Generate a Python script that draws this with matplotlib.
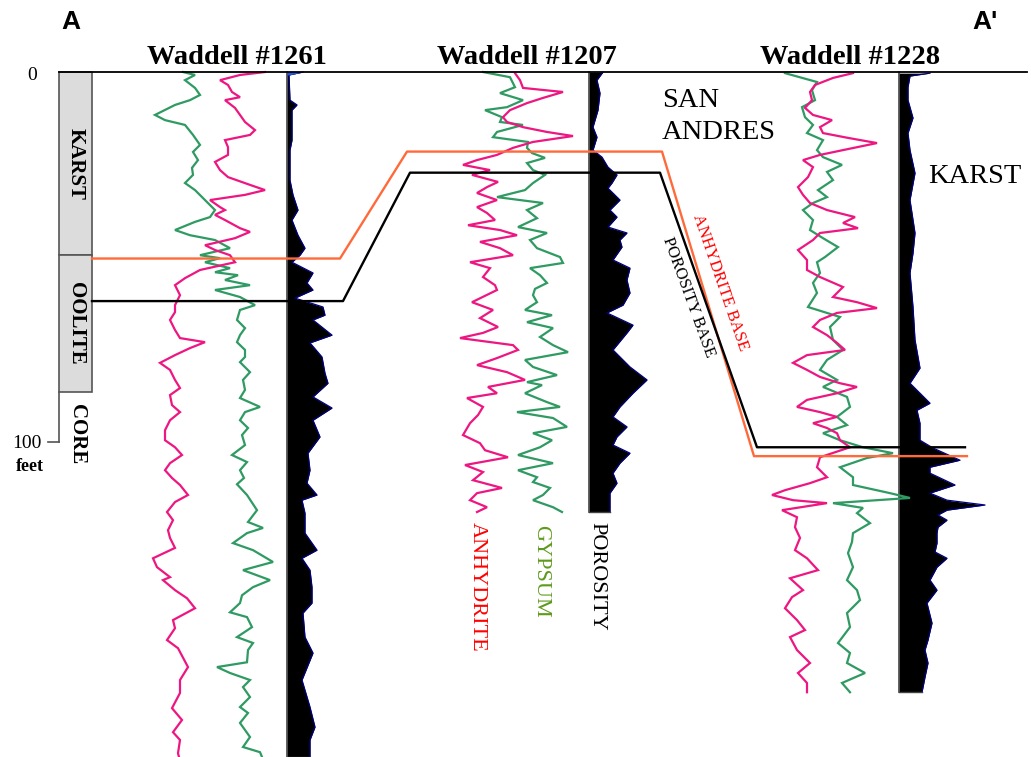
import matplotlib
matplotlib.use("Agg")
import matplotlib.pyplot as plt
from matplotlib.patches import Rectangle
import numpy as np

plt.rcParams['font.family'] = ['Liberation Serif', 'DejaVu Serif']

# depth in feet below the top datum, readings in section (display) units
well_names = ["Waddell #1261", "Waddell #1207", "Waddell #1228"]

gyp_1261 = [(0, 183), (0.8, 195), (2.2, 185), (4.3, 195), (6.2, 200), (7.6, 190), (8.9, 175), (11.6, 155),
            (13.0, 165), (14.3, 185), (17.0, 193), (19.7, 200), (21.6, 193), (23.8, 198), (25.9, 192), (27.8, 193),
            (30.0, 185), (31.9, 195), (34.6, 205), (37.3, 215), (39.2, 210), (40.5, 195), (42.7, 175), (44.1, 190),
            (45.4, 215), (47.6, 230), (49.5, 200), (50.3, 220), (51.4, 205), (53.0, 230), (54.1, 215), (54.9, 238),
            (56.2, 225), (57.6, 250), (58.9, 215), (60.8, 240), (63.0, 255), (64.3, 240), (67.0, 237), (69.2, 245),
            (71.1, 240), (73.0, 237), (75.1, 245), (77.0, 245), (78.4, 240), (81.1, 250), (83.2, 243), (85.9, 245),
            (88.1, 240), (90.5, 260), (91.9, 245), (94.1, 240), (96.2, 248), (98.1, 242), (100.8, 245), (103.5, 232),
            (105.4, 247), (107.6, 240), (109.7, 244), (111.4, 237), (114.3, 247), (118.4, 257), (121.6, 248),
            (123.2, 263), (124.6, 247), (127.3, 233), (129.2, 253), (132.4, 273), (134.6, 243), (137.3, 270),
            (139.2, 253), (141.4, 242), (143.5, 240), (146.0, 230), (147.3, 247), (150.0, 252), (152.7, 237),
            (154.3, 253), (156.2, 248), (159.5, 247), (160.8, 217), (162.4, 230), (164.3, 250), (166.2, 243),
            (168.9, 250), (171.6, 240), (173.2, 248), (175.9, 240), (179.7, 250), (182.4, 243), (183.8, 260),
            (185.1, 262)]

anh_1261 = [(0, 265), (0.8, 240), (2.2, 220), (3.5, 228), (5.4, 232), (6.8, 240), (7.6, 225), (9.7, 235),
            (11.6, 240), (13.5, 245), (15.7, 255), (17.0, 250), (18.4, 225), (20.3, 228), (22.4, 228), (24.3, 215),
            (26.5, 220), (28.4, 228), (30.5, 250), (31.9, 265), (33.2, 245), (34.6, 210), (36.5, 220), (37.3, 225),
            (38.6, 215), (40.0, 225), (42.2, 240), (43.2, 250), (44.9, 235), (46.8, 205), (48.1, 215), (49.5, 230),
            (51.4, 235), (53.5, 200), (55.7, 185), (57.6, 175), (60.3, 180), (63.0, 175), (64.9, 175), (67.0, 170),
            (69.7, 175), (71.9, 180), (73.0, 205), (74.6, 190), (76.5, 175), (78.6, 160), (80.5, 170), (83.2, 175),
            (85.4, 180), (87.3, 170), (90.0, 172), (91.9, 180), (94.1, 170), (96.8, 165), (99.5, 165), (101.4, 175),
            (103.5, 182), (105.7, 170), (107.6, 165), (109.7, 172), (111.6, 180), (114.3, 188), (116.2, 175),
            (118.9, 167), (121.1, 173), (123.8, 168), (125.9, 170), (128.6, 175), (131.4, 153), (133.8, 157),
            (136.5, 170), (137.3, 163), (140.0, 175), (142.2, 187), (144.9, 195), (148.1, 173), (150.3, 175),
            (153.5, 167), (155.7, 178), (160.8, 188), (164.3, 180), (167.8, 180), (171.9, 172), (175.1, 182),
            (178.4, 173), (180.5, 180), (184.1, 178), (185.1, 179)]

por_1261 = [(0, 303), (0.8, 289), (7.6, 290), (8.9, 297), (10.3, 292), (18.4, 292), (21.1, 290), (29.2, 290),
            (33.2, 293), (37.3, 298), (40.0, 292), (44.1, 298), (47.6, 305), (49.5, 300), (51.4, 292), (54.3, 313),
            (57.0, 307), (58.9, 313), (61.1, 295), (63.5, 323), (65.7, 325), (67.0, 313), (71.1, 332), (73.2, 310),
            (77.0, 322), (81.4, 325), (84.1, 328), (87.8, 313), (90.8, 332), (94.1, 313), (98.6, 320), (103.0, 308),
            (107.6, 310), (111.1, 307), (114.3, 317), (115.7, 302), (119.2, 305), (124.6, 305), (129.2, 317),
            (131.4, 302), (134.6, 310), (139.2, 312), (143.5, 312), (146.2, 303), (152.7, 305), (157.0, 313),
            (164.3, 302), (171.6, 310), (177.0, 315), (180.5, 310), (185.1, 310)]

anh_1207 = [(0.3, 515), (2.2, 520), (4.3, 523), (5.4, 563), (7.0, 543), (8.4, 527), (10.3, 510), (12.2, 503),
            (13.5, 507), (14.9, 523), (16.2, 547), (17.3, 573), (18.9, 533), (20.5, 513), (22.4, 497), (23.8, 477),
            (25.1, 463), (26.5, 490), (27.8, 472), (29.7, 498), (31.1, 487), (32.7, 477), (34.6, 497), (36.5, 477),
            (38.1, 487), (40.0, 495), (41.4, 468), (42.7, 500), (44.1, 517), (45.9, 480), (47.6, 500), (49.5, 513),
            (51.4, 470), (53.0, 490), (55.4, 483), (57.6, 495), (58.9, 497), (62.2, 472), (64.3, 493), (66.5, 480),
            (68.9, 498), (70.5, 483), (71.9, 460), (73.8, 513), (75.1, 518), (77.3, 497), (79.2, 477), (81.1, 507),
            (83.2, 525), (85.1, 488), (86.8, 497), (88.1, 467), (90.5, 483), (92.7, 478), (94.9, 470), (98.1, 463),
            (100.3, 480), (102.2, 485), (104.1, 508), (106.2, 465), (108.1, 483), (110.3, 473), (112.4, 502),
            (113.8, 477), (115.7, 470), (117.6, 487), (118.9, 477)]

gyp_1207 = [(0, 483), (1.4, 510), (4.1, 515), (5.7, 500), (7.6, 523), (9.5, 507), (10.3, 485), (12.2, 502),
            (13.5, 500), (14.3, 523), (16.2, 497), (17.6, 493), (18.9, 528), (20.5, 527), (21.9, 532), (23.2, 545),
            (24.6, 527), (26.5, 533), (27.8, 545), (30.0, 533), (31.9, 525), (33.8, 497), (35.4, 543), (37.3, 527),
            (39.5, 537), (41.9, 518), (43.5, 547), (45.4, 530), (47.6, 537), (50.0, 560), (51.6, 563), (53.0, 530),
            (54.9, 540), (57.0, 547), (58.6, 535), (60.3, 533), (62.2, 537), (64.3, 525), (65.7, 552), (67.6, 527),
            (69.2, 553), (71.6, 540), (73.8, 553), (75.7, 568), (77.8, 525), (79.7, 533), (81.9, 557), (83.8, 527),
            (84.6, 542), (86.8, 525), (89.2, 547), (90.5, 560), (91.9, 517), (93.5, 553), (95.9, 567), (97.6, 533),
            (99.5, 552), (101.4, 540), (103.5, 518), (105.7, 553), (107.6, 518), (109.5, 537), (110.8, 533),
            (112.4, 550), (114.3, 543), (115.7, 533), (117.6, 553), (118.9, 562)]

por_1207 = [(0, 603), (2.2, 597), (5.7, 600), (10.3, 598), (14.9, 593), (17.6, 597), (21.1, 593), (23.0, 602),
            (25.7, 608), (27.8, 617), (30.0, 612), (31.4, 608), (34.6, 620), (37.3, 610), (39.2, 617), (41.9, 608),
            (43.5, 627), (45.4, 620), (47.3, 622), (50.8, 613), (53.0, 630), (56.2, 627), (59.7, 630), (63.0, 623),
            (65.1, 607), (68.4, 633), (70.5, 627), (75.1, 613), (79.7, 630), (83.2, 647), (86.8, 633), (90.5, 620),
            (93.2, 613), (95.9, 627), (98.6, 617), (100.8, 613), (103.0, 630), (105.7, 620), (108.4, 613),
            (111.1, 617), (113.8, 610), (118.9, 610)]

anh_1228 = [(0.3, 853), (1.6, 833), (3.5, 815), (5.4, 810), (7.6, 812), (9.7, 805), (11.6, 813), (13.0, 832),
            (14.9, 820), (16.5, 823), (17.8, 848), (19.2, 877), (21.1, 843), (22.4, 820), (23.8, 803), (25.7, 813),
            (28.4, 808), (31.1, 798), (33.2, 803), (35.4, 810), (37.3, 827), (39.2, 855), (40.8, 843), (42.2, 858),
            (43.5, 820), (45.4, 813), (48.1, 798), (50.8, 807), (53.5, 807), (55.4, 820), (58.1, 843), (60.8, 833),
            (62.2, 857), (63.8, 877), (65.1, 837), (67.0, 820), (68.9, 813), (71.1, 827), (73.2, 837), (75.1, 845),
            (76.5, 807), (78.6, 793), (80.5, 807), (82.4, 820), (84.1, 840), (85.1, 857), (86.8, 837), (88.6, 807),
            (90.5, 797), (91.9, 820), (93.2, 837), (94.9, 813), (96.2, 827), (97.6, 837), (99.5, 840), (101.4, 850),
            (104.1, 820), (106.8, 817), (109.5, 827), (111.1, 810), (113.0, 785), (114.3, 772), (115.7, 793),
            (116.5, 827), (118.4, 782), (120.3, 797), (123.0, 795), (125.9, 800), (129.2, 795), (131.4, 807),
            (134.6, 818), (136.8, 790), (140.0, 803), (141.9, 792), (144.9, 785), (148.1, 797), (150.8, 805),
            (152.7, 790), (156.2, 797), (159.7, 810), (162.4, 798), (165.1, 807), (167.6, 807)]

gyp_1228 = [(0.3, 785), (2.7, 817), (4.9, 812), (7.6, 815), (9.5, 802), (12.2, 805), (14.3, 813), (16.5, 807),
            (18.4, 823), (21.1, 817), (23.0, 823), (25.1, 842), (27.0, 827), (29.2, 833), (31.9, 818), (33.8, 827),
            (35.4, 813), (37.3, 803), (40.0, 813), (42.7, 810), (44.9, 823), (47.3, 838), (50.0, 825), (51.4, 817),
            (54.3, 820), (57.0, 813), (59.7, 817), (63.5, 808), (66.2, 840), (68.9, 830), (72.4, 833), (75.1, 843),
            (77.8, 827), (80.5, 820), (83.2, 837), (85.1, 823), (87.8, 847), (90.5, 850), (93.2, 837), (95.4, 847),
            (97.6, 823), (99.5, 840), (101.4, 863), (103.0, 893), (104.3, 867), (106.8, 840), (109.5, 853),
            (111.6, 853), (113.8, 890), (115.1, 910), (116.5, 833), (117.8, 863), (119.2, 857), (121.9, 870),
            (124.6, 853), (127.0, 852), (130.0, 848), (133.8, 853), (137.3, 847), (140.0, 857), (142.7, 860),
            (146.2, 847), (150.0, 850), (154.3, 838), (157.0, 850), (159.7, 847), (162.4, 865), (165.1, 842),
            (167.6, 850)]

por_1228 = [(0.3, 930), (1.1, 910), (4.1, 908), (7.6, 908), (12.4, 913), (16.5, 908), (21.1, 910), (27.3, 915),
            (34.6, 910), (43.5, 915), (48.9, 913), (54.3, 910), (63.5, 913), (72.4, 915), (80.0, 920), (84.1, 910),
            (89.5, 930), (91.4, 917), (94.9, 920), (99.5, 920), (101.6, 933), (104.9, 960), (106.8, 930),
            (108.4, 930), (111.6, 955), (113.8, 930), (115.7, 947), (117.0, 985), (118.4, 947), (119.7, 938),
            (121.1, 947), (123.0, 938), (124.6, 937), (127.3, 937), (129.7, 935), (131.4, 947), (133.8, 937),
            (137.3, 930), (140.0, 937), (143.5, 927), (148.9, 932), (153.5, 928), (156.2, 925), (159.7, 928),
            (163.5, 925), (167.6, 922)]

# correlation tops: (section position, depth ft)
anhydrite_base = [(92, 50.4), (340, 50.4), (407, 21.5), (662, 21.5), (754, 103.8), (967, 103.8)]
porosity_base = [(92, 61.9), (343, 61.9), (410, 27.2), (660, 27.2), (757, 101.4), (965, 101.4)]

# core description column (top ft, bottom ft, label)
core_units = [(0, 49.5, "KARST"), (49.5, 86.5, "OOLITE")]
core_bottom = 100

PINK = '#ee1680'
GREEN = '#2f9a62'
ORANGE = '#ff6a3a'

track_x = [287, 589, 899]
title_x = [237, 527, 850]

fig = plt.figure(figsize=(10.31, 7.57), dpi=100)
ax = fig.add_axes([0, 0, 1, 1])
ax.set_xlim(0, 1031)
ax.set_ylim(185.1, -19.46)
ax.axis('off')


def log_curve(pairs, color):
    d, v = np.array(pairs, dtype=float).T
    ax.plot(v, d, color=color, lw=1.6, solid_joinstyle='miter', zorder=3)


def porosity(pairs, base):
    d, v = np.array(pairs, dtype=float).T
    ax.fill_betweenx(d, base, v, color='black', lw=0, zorder=2)
    ax.plot(v, d, color='#000080', lw=0.9, zorder=2)
    ax.plot([base, base], [0, d[-1]], color='#444444', lw=1.2, zorder=2)
    ax.plot([base, v[-1]], [d[-1], d[-1]], color='#444444', lw=1.0, zorder=2)
    return d, v


# top datum line
ax.plot([59, 1027], [0, 0], color='black', lw=1.3, zorder=4)

# wells
d, v = porosity(por_1261, track_x[0])
ax.fill_betweenx(d[:2], track_x[0], v[:2], color='#2255dd', lw=0, zorder=2)
porosity(por_1207, track_x[1])
porosity(por_1228, track_x[2])
for pairs in [gyp_1261, gyp_1207, gyp_1228]:
    log_curve(pairs, GREEN)
for pairs in [anh_1261, anh_1207, anh_1228]:
    log_curve(pairs, PINK)

for name, x in zip(well_names, title_x):
    ax.text(x, -2.2, name, ha='center', va='baseline', fontsize=20.5, fontweight='bold')

# correlation lines
for pts, col in [(anhydrite_base, ORANGE), (porosity_base, 'black')]:
    px, pd = np.array(pts, dtype=float).T
    ax.plot(px, pd, color=col, lw=1.7, zorder=5)

# core column
for top, bot, label in core_units:
    ax.add_patch(Rectangle((59, top), 33, bot - top, facecolor='#dcdcdc', edgecolor='#555555', lw=1.2, zorder=1))
    ax.text(76, (top + bot) / 2, label, rotation=-90, ha='center', va='center', fontsize=15, fontweight='semibold')
ax.plot([59, 59], [core_units[-1][1], core_bottom], color='#555555', lw=1.2)
ax.plot([48, 59], [core_bottom, core_bottom], color='#555555', lw=1.2)
ax.text(77, 97.8, "CORE", rotation=-90, ha='center', va='center', fontsize=15, fontweight='semibold')

# depth scale
ax.text(32, 2.2, "0", ha='center', va='baseline', fontsize=14)
ax.text(27, 101.6, "100", ha='center', va='baseline', fontsize=14)
ax.text(30, 107.8, "feet", ha='center', va='baseline', fontsize=13, fontweight='bold')

# section ends
ax.text(71, -11.6, "A", ha='center', va='baseline', fontsize=19, fontweight='bold', family='Liberation Sans')
ax.text(972, -11.6, "A'", ha='left', va='baseline', fontsize=19, fontweight='bold', family='Liberation Sans')

# annotations
ax.text(662, 9.5, "SAN", ha='left', va='baseline', fontsize=20.5)
ax.text(662, 18.1, "ANDRES", ha='left', va='baseline', fontsize=20.5)
ax.text(928, 30.0, "KARST", ha='left', va='baseline', fontsize=20.5)

ax.text(720, 56.8, "ANHYDRITE BASE", rotation=-71, rotation_mode='anchor', ha='center', va='center',
        fontsize=12, color='#ff0000')
ax.text(688, 60.8, "POROSITY BASE", rotation=-70, rotation_mode='anchor', ha='center', va='center',
        fontsize=12, color='black')

ax.text(477, 139.2, "ANHYDRITE", rotation=-90, ha='center', va='center', fontsize=16, color='#ff0000')
ax.text(541, 134.9, "GYPSUM", rotation=-90, ha='center', va='center', fontsize=16, color='#5e9a1c')
ax.text(597, 136.2, "POROSITY", rotation=-90, ha='center', va='center', fontsize=16, color='black')

fig.savefig("out.png", dpi=100)
